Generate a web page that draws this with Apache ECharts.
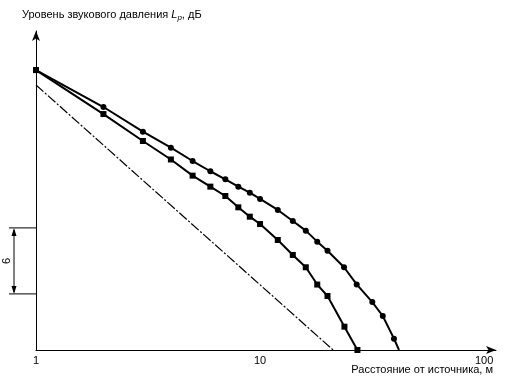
<!DOCTYPE html>
<html>
<head>
<meta charset="utf-8">
<script src="https://cdn.jsdelivr.net/npm/echarts@6/dist/echarts.min.js"></script>
<style>
  html, body { margin: 0; padding: 0; background: #fff; }
  #main { width: 506px; height: 377px; }
</style>
</head>
<body>
<div id="main"></div>
<script>
// расстояние, м (логарифмическая шкала) и уровень, дБ (отн.)
const upperX = [1, 2, 3, 4, 5, 6, 7, 8, 9, 10, 12, 14, 16, 18, 20, 23.7, 27, 31.7, 35.3, 39.6, 41.7];
const upperY = [25.45, 22.09, 19.85, 18.39, 17.18, 16.25, 15.52, 14.85, 14.3, 13.73, 12.73, 11.73, 10.85, 9.85, 9.03, 7.52, 5.96, 4.36, 3.09, 1.03, 0];
const lowerX = [1, 2, 3, 4, 5, 6, 7, 8, 9, 10, 12, 14, 16, 18, 20, 23.8, 27.2];
const lowerY = [25.45, 21.45, 19.0, 17.32, 15.85, 14.85, 14.0, 12.97, 12.12, 11.45, 10.0, 8.64, 7.52, 5.95, 4.91, 2.12, 0];
// спад 6 дБ на удвоение расстояния (штрихпунктир)
const freeX = [1, 21.2];
const freeY = [24.09, 0];
// скобка "6 дБ" слева от оси
const bracketLevels = [5.1, 11.1];
const xTickLabels = ['1', '10', '100'];

function pairs(xs, ys) {
  return xs.map((x, i) => [x, ys[i]]);
}

const chart = echarts.init(document.getElementById('main'));
const font = '"Liberation Sans", Arial, sans-serif';

// у верхней кривой первая точка квадратная, последняя без маркера
const upperData = pairs(upperX, upperY).map((p, i) =>
  i === upperX.length - 1 ? { value: p, symbol: 'none' } : (i === 0 ? { value: p, symbol: 'rect' } : p)
);

chart.setOption({
  animation: false,
  backgroundColor: '#fff',
  grid: { left: 36, right: 10, top: 31, bottom: 27 },
  xAxis: {
    type: 'log',
    logBase: 10,
    min: 1,
    max: 113,
    axisLine: {
      show: true,
      symbol: ['none', 'arrow'],
      symbolSize: [6, 10],
      lineStyle: { color: '#000', width: 1 }
    },
    axisTick: { show: false },
    splitLine: { show: false },
    axisLabel: {
      color: '#000',
      fontSize: 11,
      fontFamily: font,
      margin: 5,
      formatter: function (v) {
        const s = String(Math.round(v));
        return xTickLabels.indexOf(s) >= 0 && Math.abs(v - Math.round(v)) < 1e-6 ? s : '';
      }
    }
  },
  yAxis: {
    type: 'value',
    min: 0,
    max: 29,
    axisLine: {
      show: true,
      symbol: ['none', 'arrow'],
      symbolSize: [6, 10],
      lineStyle: { color: '#000', width: 1 }
    },
    axisTick: { show: false },
    axisLabel: { show: false },
    splitLine: { show: false }
  },
  series: [
    {
      type: 'line',
      data: pairs(freeX, freeY),
      symbol: 'none',
      lineStyle: { color: '#000', width: 1.2, type: [10, 2, 2, 2] }
    },
    {
      type: 'line',
      data: upperData,
      symbol: 'circle',
      symbolSize: 6,
      itemStyle: { color: '#000' },
      lineStyle: { color: '#000', width: 2 }
    },
    {
      type: 'line',
      data: pairs(lowerX, lowerY),
      symbol: 'rect',
      symbolSize: 6,
      itemStyle: { color: '#000' },
      lineStyle: { color: '#000', width: 2 }
    }
  ]
});

// подписи осей и скобка 6 дБ
const yTop = chart.convertToPixel({ gridIndex: 0 }, [1, bracketLevels[1]])[1];
const yBot = chart.convertToPixel({ gridIndex: 0 }, [1, bracketLevels[0]])[1];
const axisX = chart.convertToPixel({ gridIndex: 0 }, [1, 0])[0];
const bx = 14;

chart.setOption({
  graphic: [
    {
      type: 'text',
      left: 22,
      top: 9,
      style: {
        text: '{a|Уровень звукового давления }{i|L}{s|p}{a|, дБ}',
        rich: {
          a: { fontSize: 11, fontFamily: font, fill: '#000' },
          i: { fontSize: 11, fontFamily: font, fontStyle: 'italic', fill: '#000' },
          s: { fontSize: 8, fontFamily: font, fontStyle: 'italic', fill: '#000', padding: [6, 0, 0, 0] }
        }
      }
    },
    {
      type: 'text',
      right: 13,
      top: 364,
      style: {
        text: 'Расстояние от источника, м',
        font: '11px ' + font,
        fill: '#000'
      }
    },
    {
      type: 'line',
      shape: { x1: 9, y1: yTop, x2: axisX, y2: yTop },
      style: { stroke: '#000', lineWidth: 1 }
    },
    {
      type: 'line',
      shape: { x1: 9, y1: yBot, x2: axisX, y2: yBot },
      style: { stroke: '#000', lineWidth: 1 }
    },
    {
      type: 'line',
      shape: { x1: bx, y1: yTop + 2, x2: bx, y2: yBot - 2 },
      style: { stroke: '#000', lineWidth: 1 }
    },
    {
      type: 'polygon',
      shape: { points: [[bx, yTop], [bx - 2.5, yTop + 8], [bx + 2.5, yTop + 8]] },
      style: { fill: '#000' }
    },
    {
      type: 'polygon',
      shape: { points: [[bx, yBot], [bx - 2.5, yBot - 8], [bx + 2.5, yBot - 8]] },
      style: { fill: '#000' }
    },
    {
      type: 'text',
      x: 7,
      y: (yTop + yBot) / 2,
      rotation: Math.PI / 2,
      style: {
        text: '6',
        font: '11px ' + font,
        fill: '#000',
        align: 'center',
        verticalAlign: 'middle'
      }
    }
  ]
});
</script>
</body>
</html>
